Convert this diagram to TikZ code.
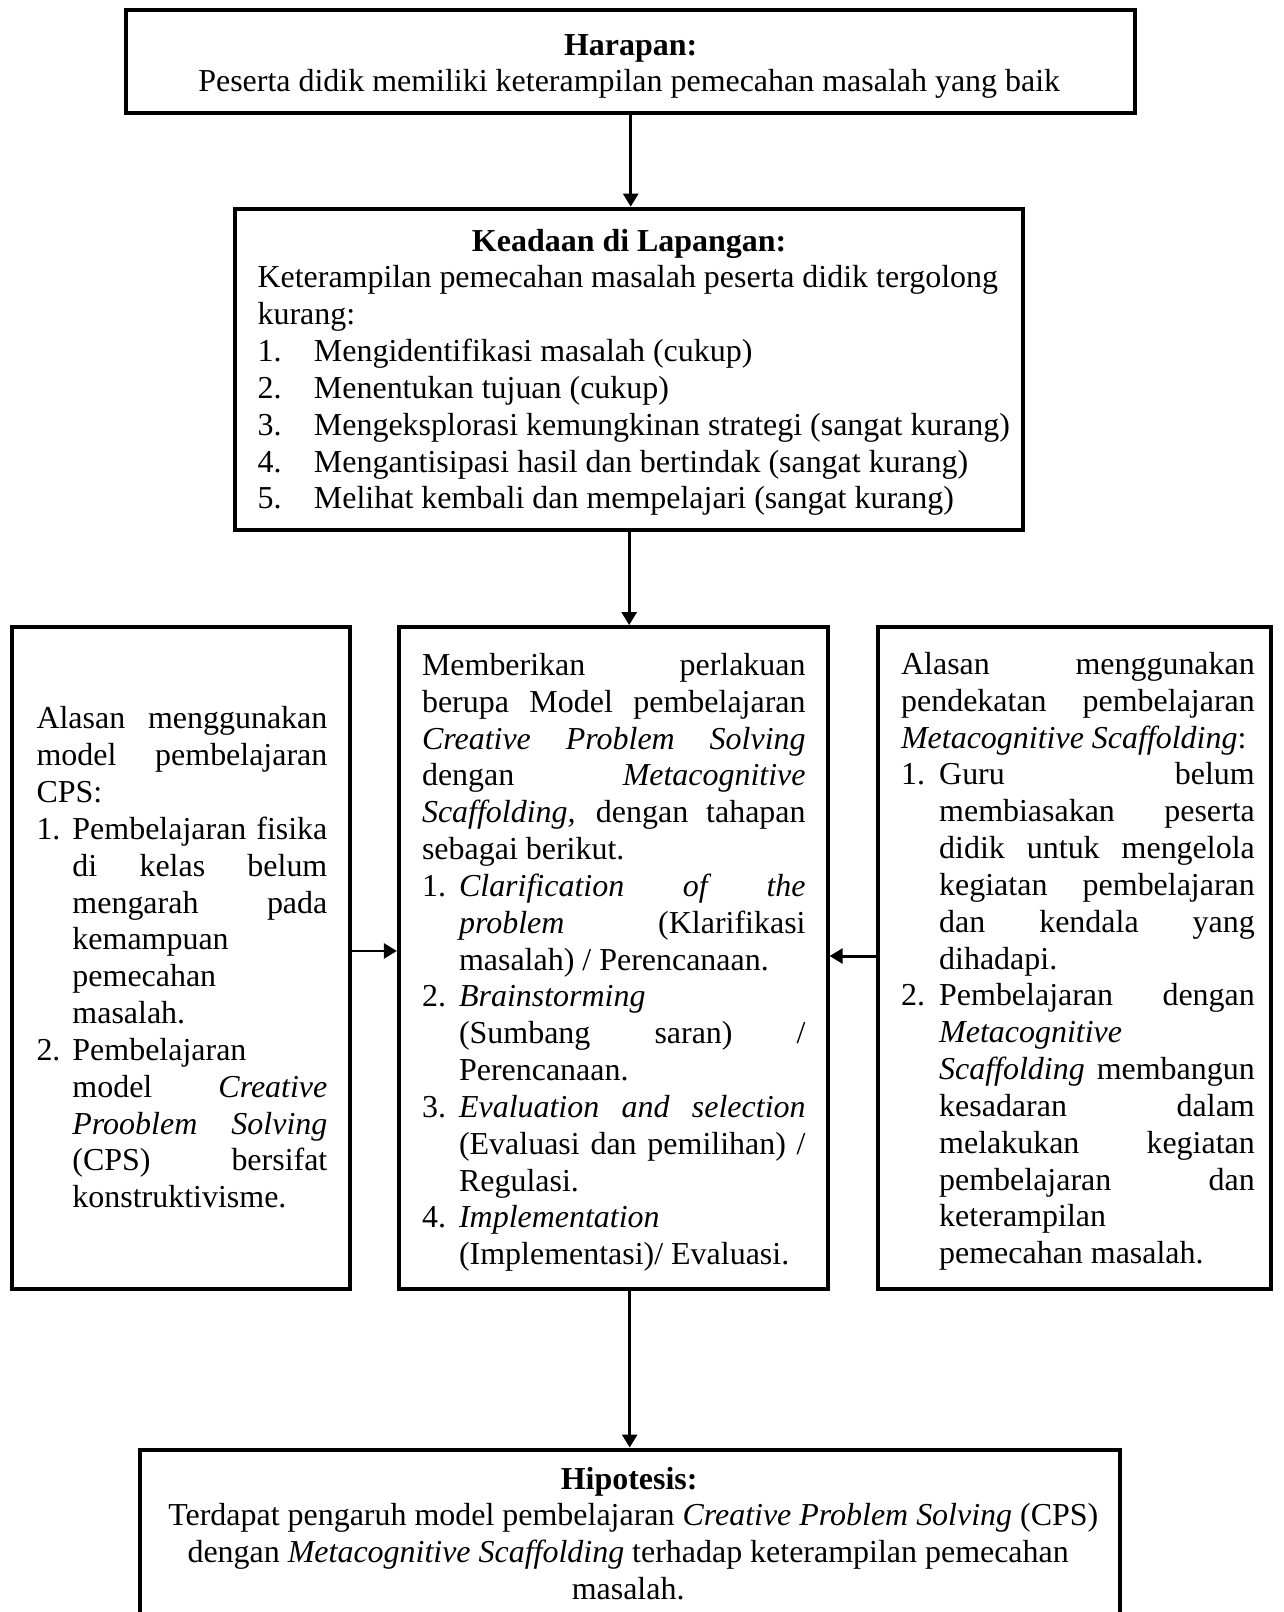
\documentclass[tikz,border=0pt]{standalone}
\usepackage{fontspec}
\setmainfont{Liberation Serif}
\usetikzlibrary{arrows.meta}
\newdimen\bw
\newdimen\ind
\newcommand{\jfull}[1]{\hbox to \bw{#1}}
\newcommand{\lfull}[1]{\hbox to \bw{#1\hfil}}
\newcommand{\jitem}[2]{\hbox to \bw{\hbox to \ind{#1\hfil}#2}}
\newcommand{\litem}[2]{\hbox to \bw{\hbox to \ind{#1\hfil}#2\hfil}}
\newcommand{\jcont}[1]{\hbox to \bw{\hskip\ind\relax #1}}
\newcommand{\lcont}[1]{\hbox to \bw{\hskip\ind\relax #1\hfil}}
\newcommand{\tblock}[3]{\vtop{\bw=#1\relax\ind=#2\relax\baselineskip=13.83pt\lineskiplimit=-100pt\lineskip=0pt #3}}
\begin{document}
\begin{tikzpicture}[x=0.386pt,y=-0.386pt,
  bx/.style 2 args={draw, line width=1.5pt, inner sep=0pt, minimum width=#1*0.386pt, minimum height=#2*0.386pt},
  txt/.style={inner sep=0pt, font=\fontsize{12}{13.83}\selectfont},
  arr/.style={line width=1.1pt, -{Triangle[length=4.9pt,width=5.6pt]}}]
\useasboundingbox (0,0) rectangle (1248,1568);
\clip (0,0) rectangle (1248,1568);
% boxes
\node[bx={981}{100}] (top) at (613.5,60) {};
\node[bx={766}{313}] (kead) at (612,359.5) {};
\node[bx={328}{644}] (left) at (176,932) {};
\node[bx={417}{644}] (mid) at (596.5,932) {};
\node[bx={382}{644}] (right) at (1045,932) {};
\node[bx={953}{200}] (hyp) at (612.5,1510) {};
% arrows
\draw[arr] (top.south) -- (top.south |- kead.north);
\draw[arr] (kead.south) -- (kead.south |- mid.north);
\draw[arr] ([yshift=2.7pt]left.east) -- ([yshift=2.7pt]mid.west);
\draw[arr] ([yshift=0.8pt]right.west) -- ([yshift=0.8pt]mid.east);
\draw[arr] (hyp.north |- mid.south) -- (hyp.north);
% top text
\node[txt, anchor=base] (h1) at (613.5,54) {\textbf{Harapan:}};
\node[txt, anchor=base] (h2) at (612,89) {Peserta didik memiliki keterampilan pemecahan masalah yang baik};
% keadaan
\node[txt, anchor=base] (k1) at (612,245) {\textbf{Keadaan di Lapangan:}};
\node[txt, anchor=base west] (k2) at (250,280) {\tblock{290pt}{21.2pt}{%
\lfull{Keterampilan pemecahan masalah peserta didik tergolong}
\lfull{kurang:}
\litem{1.}{Mengidentifikasi masalah (cukup)}
\litem{2.}{Menentukan tujuan (cukup)}
\litem{3.}{Mengeksplorasi kemungkinan strategi (sangat kurang)}
\litem{4.}{Mengantisipasi hasil dan bertindak (sangat kurang)}
\litem{5.}{Melihat kembali dan mempelajari (sangat kurang)}}};
% left
\node[txt, anchor=base west] (lt) at (35,709) {\tblock{109.2pt}{13.5pt}{%
\jfull{Alasan menggunakan}
\jfull{model pembelajaran}
\lfull{CPS:}
\jitem{1.}{Pembelajaran fisika}
\jcont{di kelas belum}
\jcont{mengarah pada}
\lcont{kemampuan}
\lcont{pemecahan}
\lcont{masalah.}
\litem{2.}{Pembelajaran}
\jcont{model \textit{Creative}}
\jcont{\textit{Prooblem Solving}}
\jcont{(CPS) bersifat}
\lcont{konstruktivisme.}}};
% middle
\node[txt, anchor=base west] (mt) at (410,657) {\tblock{144pt}{13.9pt}{%
\jfull{Memberikan perlakuan}
\jfull{berupa Model pembelajaran}
\jfull{\textit{Creative Problem Solving}}
\jfull{dengan \textit{Metacognitive}}
\jfull{\textit{Scaffolding,} dengan tahapan}
\lfull{sebagai berikut.}
\jitem{1.}{\textit{Clarification of the}}
\jcont{\textit{problem} (Klarifikasi}
\lcont{masalah) / Perencanaan.}
\litem{2.}{\textit{Brainstorming}}
\jcont{(Sumbang saran) /}
\lcont{Perencanaan.}
\jitem{3.}{\textit{Evaluation and selection}}
\jcont{(Evaluasi dan pemilihan) /}
\lcont{Regulasi.}
\litem{4.}{\textit{Implementation}}
\lcont{(Implementasi)/ Evaluasi.}}};
% right
\node[txt, anchor=base west] (rt) at (876,656) {\tblock{132.8pt}{14.3pt}{%
\jfull{Alasan menggunakan}
\jfull{pendekatan pembelajaran}
\lfull{\textit{Metacognitive Scaffolding}:}
\jitem{1.}{Guru belum}
\jcont{membiasakan peserta}
\jcont{didik untuk mengelola}
\jcont{kegiatan pembelajaran}
\jcont{dan kendala yang}
\lcont{dihadapi.}
\jitem{2.}{Pembelajaran dengan}
\lcont{\textit{Metacognitive}}
\jcont{\textit{Scaffolding} membangun}
\jcont{kesadaran dalam}
\jcont{melakukan kegiatan}
\jcont{pembelajaran dan}
\lcont{keterampilan}
\lcont{pemecahan masalah.}}};
% hipotesis
\node[txt, anchor=base] (p1) at (612,1449) {\textbf{Hipotesis:}};
\node[txt, anchor=base] (p2) at (616,1484) {Terdapat pengaruh model pembelajaran \textit{Creative Problem Solving} (CPS)};
\node[txt, anchor=base] (p3) at (611,1520) {dengan \textit{Metacognitive Scaffolding} terhadap keterampilan pemecahan};
\node[txt, anchor=base] (p4) at (611,1556) {masalah.};
\end{tikzpicture}
\end{document}
